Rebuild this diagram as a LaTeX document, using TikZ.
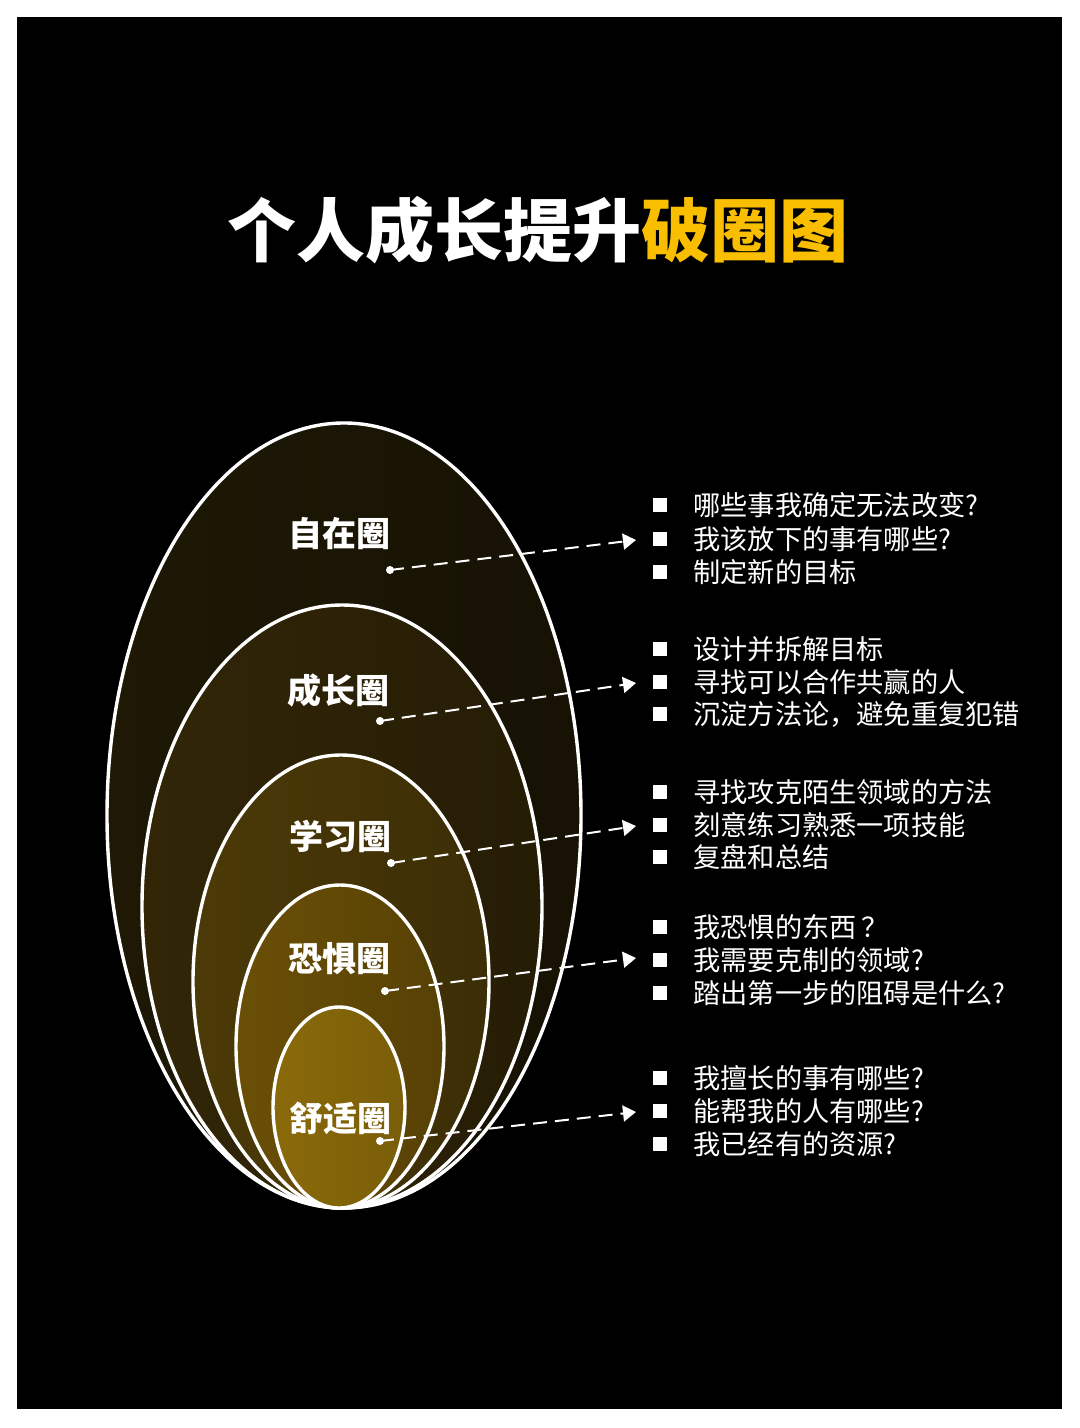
\documentclass[tikz,border=0pt]{standalone}
\usepackage{fontspec}
\newfontfamily\cjk{Noto Sans CJK SC}
\usetikzlibrary{arrows.meta}
\definecolor{ttlyellow}{RGB}{250,190,0}
\definecolor{cA}{RGB}{30,24,5}
\definecolor{cB}{RGB}{50,38,7}
\definecolor{cC}{RGB}{76,58,7}
\definecolor{cD}{RGB}{106,79,6}
\definecolor{cE}{RGB}{138,106,10}
\tikzset{
  ring/.style={draw=white,line width=1.7pt},
  title/.style={text=white,font=\cjk\bfseries\fontsize{34.5pt}{40pt}\selectfont,inner sep=0pt},
  ringlabel/.style={text=white,font=\cjk\bfseries\fontsize{17pt}{20pt}\selectfont,inner sep=0pt},
  item/.style={text=white,font=\cjk\fontsize{13.6pt}{16pt}\selectfont,inner sep=0pt,anchor=west},
  bullet/.style={fill=white,minimum size=7pt,inner sep=0pt},
  dot/.style={circle,fill=white,minimum size=4pt,inner sep=0pt},
  link/.style={draw=white,line width=1pt,dash pattern=on 7pt off 4pt,-{Triangle[length=6.5pt,width=8pt]}}
}
\begin{document}
\begin{tikzpicture}[x=0.5pt,y=-0.5pt]
\useasboundingbox (0,0) rectangle (1080,1428);
\fill[white] (0,0) rectangle (1080,1428);
\fill[black] (17,17) rectangle (1062,1409);

\node[title] (title) at (538,230) {个人成长提升\textcolor{ttlyellow}{破圈图}};

% rings
\draw[ring,left color=cA,right color=cA!75!black] (344,815.5) ellipse [x radius=118.5pt,y radius=196.25pt];
\draw[ring,left color=cB,right color=cB!75!black] (342,906.5) ellipse [x radius=100pt,y radius=150.75pt];
\draw[ring,left color=cC,right color=cC!78!black] (341,981.5) ellipse [x radius=74pt,y radius=113.25pt];
\draw[ring,left color=cD,right color=cD!82!black] (340,1046.5) ellipse [x radius=52pt,y radius=80.75pt];
\draw[ring,left color=cE,right color=cE!88!black] (339,1107.5) ellipse [x radius=33pt,y radius=50.25pt];

% ring labels
\node[ringlabel] (l1) at (339,534) {自在圈};
\node[ringlabel] (l2) at (338,691) {成长圈};
\node[ringlabel] (l3) at (340,836) {学习圈};
\node[ringlabel] (l4) at (339,959) {恐惧圈};
\node[ringlabel] (l5) at (340,1118) {舒适圈};

% dots and arrow ends
\node[dot] (d1) at (390,570) {};
\node[dot] (d2) at (380,721) {};
\node[dot] (d3) at (391,863) {};
\node[dot] (d4) at (385,991) {};
\node[dot] (d5) at (380,1141) {};
\coordinate (t1) at (636,540);
\coordinate (t2) at (636,683);
\coordinate (t3) at (636,826);
\coordinate (t4) at (636,958);
\coordinate (t5) at (636,1112);
\foreach \i in {1,...,5} {\draw[link] (d\i.center) -- (t\i);}

% bullets
\foreach \y in {505,539,572,649,682,714,792,825,857,927,960,993,1078,1111,1144}
  {\node[bullet] at (660,\y) {};}

% items
\node[item] (a1) at (693,505) {哪些事我确定无法改变?};
\node[item] (a2) at (693,539) {我该放下的事有哪些?};
\node[item] (a3) at (693,572) {制定新的目标};
\node[item] (b1) at (693,649) {设计并拆解目标};
\node[item] (b2) at (693,682) {寻找可以合作共赢的人};
\node[item] (b3) at (693,714) {沉淀方法论，避免重复犯错};
\node[item] (c1) at (693,792) {寻找攻克陌生领域的方法};
\node[item] (c2) at (693,825) {刻意练习熟悉一项技能};
\node[item] (c3) at (693,857) {复盘和总结};
\node[item] (e1) at (693,927) {我恐惧的东西\,？};
\node[item] (e2) at (693,960) {我需要克制的领域?};
\node[item] (e3) at (693,993) {踏出第一步的阻碍是什么?};
\node[item] (f1) at (693,1078) {我擅长的事有哪些?};
\node[item] (f2) at (693,1111) {能帮我的人有哪些?};
\node[item] (f3) at (693,1144) {我已经有的资源?};
\end{tikzpicture}
\end{document}
